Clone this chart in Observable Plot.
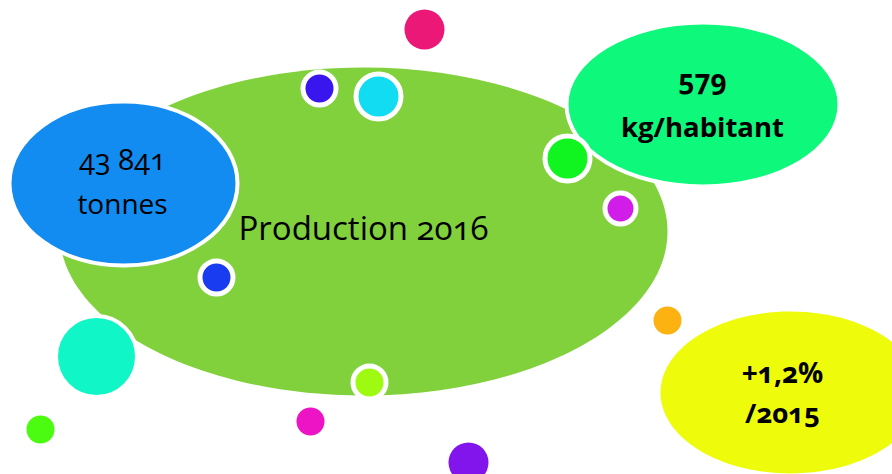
<!DOCTYPE html>
<html>
<head>
<meta charset="utf-8">
<script src="https://cdn.jsdelivr.net/npm/d3@7"></script>
<script src="https://cdn.jsdelivr.net/npm/@observablehq/plot@0.6"></script>
<style>
  html, body { margin: 0; padding: 0; background: #fff; }
  #chart svg { display: block; }
  #chart text { font-variant-numeric: oldstyle-nums; }
</style>
</head>
<body>
<div id="chart"></div>
<script>
// ---- data: ellipses (key figures), in layout units ----
const ellipseKeys   = ["production", "tonnage", "perCapita", "trend"];
const ellipseX      = [363, 123, 702.5, 790];
const ellipseY      = [231, 183, 104, 392];
const ellipseRx     = [304, 114, 136.5, 130];
const ellipseRy     = [164, 82, 82, 81];
const ellipseColors = ["#80d13c", "#128cf0", "#0ef87c", "#eefc0c"];
const ellipseOutlined = [false, true, true, false];

// ---- data: labels ----
const labelText = ["Production 2016", "43 841", "tonnes", "579", "kg/habitant", "+1,2%", "/2015"];
const labelX    = [363, 122, 122, 702, 702, 782, 782];
const labelY    = [229, 160, 205, 81, 128, 374, 414];
const labelSize = [33, 29, 28, 28, 27.5, 28, 27.5];
const labelBold = [false, false, false, true, true, true, true];

// ---- data: decorative bubbles ----
const bubbleX      = [424, 319, 378, 567, 620, 216, 667, 96, 40, 310, 369, 468];
const bubbleY      = [29, 88, 96, 158, 208, 277, 320, 356, 429, 421, 382, 462];
const bubbleR      = [20, 14, 20, 20, 13, 14, 14, 38.5, 14, 14, 14, 20];
const bubbleRinged = [false, true, true, true, true, true, false, true, false, false, true, false];
const bubbleColors = ["#ec1878", "#3a16ee", "#12dcf2", "#10f420", "#d01ee8", "#1a3cf0",
                      "#fcb210", "#10f6c6", "#4cfc10", "#ec14c4", "#9efa10", "#8214ec"];

// ---- tables built from arrays ----
const ellipses = ellipseKeys.map((k, i) => ({
  key: k, x: ellipseX[i], y: ellipseY[i], rx: ellipseRx[i], ry: ellipseRy[i],
  color: ellipseColors[i], outlined: ellipseOutlined[i]
}));
const labels = labelText.map((t, i) => ({
  text: t, x: labelX[i], y: labelY[i], size: labelSize[i], bold: labelBold[i]
}));
const bubbles = bubbleX.map((x, i) => ({
  x, y: bubbleY[i], r: bubbleR[i], ringed: bubbleRinged[i], color: bubbleColors[i]
}));

// custom ellipse symbol with a given aspect ratio (rx / ry)
function ellipseSymbol(aspect) {
  const k = 0.5522847498;
  return {
    draw(ctx, size) {
      const ry = Math.sqrt(size / Math.PI), rx = ry * aspect;
      ctx.moveTo(rx, 0);
      ctx.bezierCurveTo(rx, ry * k, rx * k, ry, 0, ry);
      ctx.bezierCurveTo(-rx * k, ry, -rx, ry * k, -rx, 0);
      ctx.bezierCurveTo(-rx, -ry * k, -rx * k, -ry, 0, -ry);
      ctx.bezierCurveTo(rx * k, -ry, rx, -ry * k, rx, 0);
      ctx.closePath();
    }
  };
}

const W = 892, H = 474;

const ellipseMarks = ellipses.map(e =>
  Plot.dot([e], {
    x: "x", y: "y",
    r: e.ry,
    symbol: ellipseSymbol(e.rx / e.ry),
    fill: e.color,
    stroke: e.outlined ? "#ffffff" : "none",
    strokeWidth: 4
  })
);

const bubbleMarks = bubbles.map(b =>
  Plot.dot([b], {
    x: "x", y: "y",
    r: b.ringed ? b.r + (b.r > 30 ? 2 : 2.5) : b.r,
    fill: b.color,
    stroke: b.ringed ? "#ffffff" : "none",
    strokeWidth: b.ringed ? (b.r > 30 ? 4 : 5) : 0
  })
);

const labelMarks = labels.map(l =>
  Plot.text([l], {
    x: "x", y: "y", text: "text",
    fontSize: l.size,
    fontWeight: l.bold ? "bold" : "normal",
    fill: "#000000",
    textAnchor: "middle"
  })
);

const chart = Plot.plot({
  width: W,
  height: H,
  margin: 0,
  style: { fontFamily: "'Open Sans', sans-serif", background: "#ffffff", overflow: "hidden" },
  x: { domain: [0, W], range: [0, W], axis: null },
  y: { domain: [0, H], range: [0, H], axis: null },
  marks: [
    ...ellipseMarks,
    ...bubbleMarks,
    ...labelMarks
  ]
});

document.getElementById("chart").appendChild(chart);
</script>
</body>
</html>
